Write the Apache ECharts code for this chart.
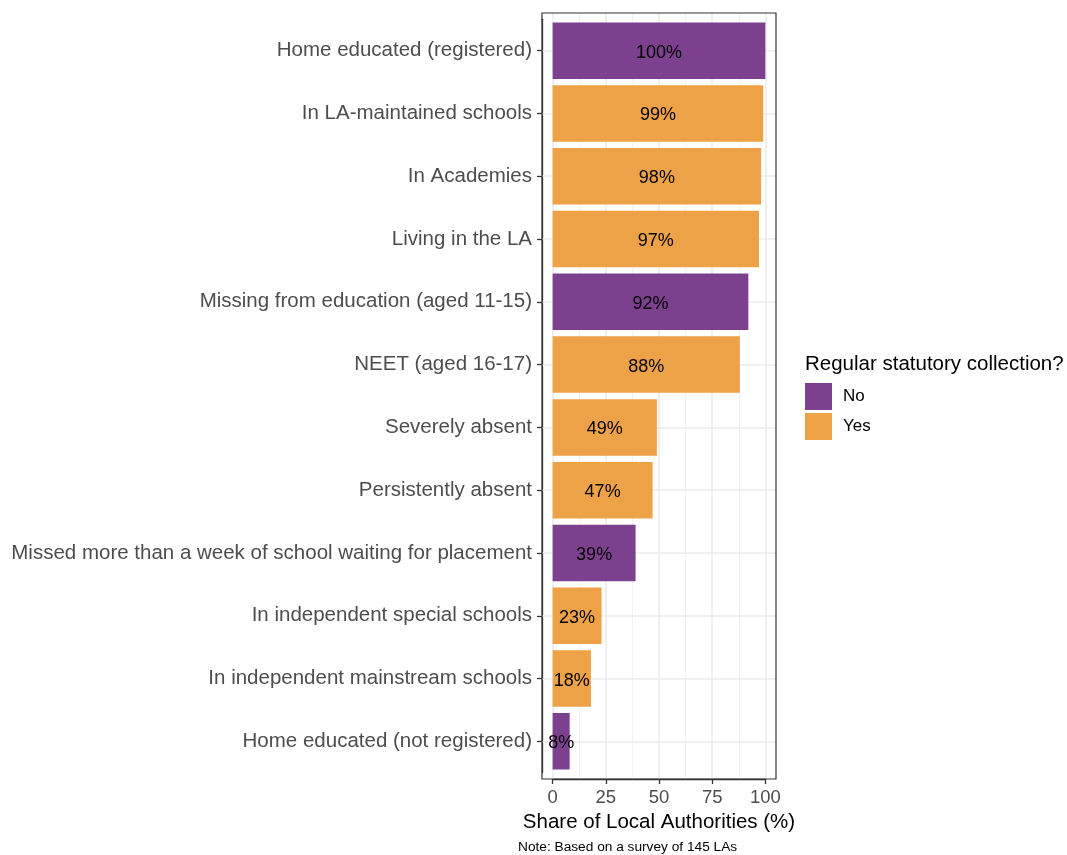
<!DOCTYPE html>
<html>
<head>
<meta charset="utf-8">
<title>Share of Local Authorities</title>
<script src="https://cdn.jsdelivr.net/npm/echarts@6/dist/echarts.min.js"></script>
<style>
  html, body { margin: 0; padding: 0; background: #ffffff; }
  #chart { width: 1067px; height: 855px; }
</style>
</head>
<body>
<div id="chart"></div>
<script>
// Categories from top to bottom
const categories = [
  'Home educated (registered)',
  'In LA-maintained schools',
  'In Academies',
  'Living in the LA',
  'Missing from education (aged 11-15)',
  'NEET (aged 16-17)',
  'Severely absent',
  'Persistently absent',
  'Missed more than a week of school waiting for placement',
  'In independent special schools',
  'In independent mainstream schools',
  'Home educated (not registered)'
];
// Share of LAs (%) per category
const shares = [100, 99, 98, 97, 92, 88, 49, 47, 39, 23, 18, 8];
// Regular statutory collection? per category
const statutory = ['No', 'Yes', 'Yes', 'Yes', 'No', 'Yes', 'Yes', 'Yes', 'No', 'Yes', 'Yes', 'No'];
const groups = ['No', 'Yes'];
const groupColors = { No: '#7c408f', Yes: '#eda247' };
const majorTicks = [0, 25, 50, 75, 100];
const minorTicks = [12.5, 37.5, 62.5, 87.5];

// Panel geometry (with 5% / 0.6-category padding around the data range)
const FONT = '"Liberation Sans", Arial, sans-serif';
const panel = { left: 542, top: 13, width: 234, height: 766 };
const xMin = 0, xMax = 100, xPad = 5;
const nCat = categories.length, catPad = 0.6;
const pxPerX = panel.width / (xMax - xMin + 2 * xPad);
const pxPerCat = panel.height / (nCat - 1 + 2 * catPad);
const dataGrid = {
  left: panel.left + xPad * pxPerX,
  top: panel.top + (catPad - 0.5) * pxPerCat,
  width: (xMax - xMin) * pxPerX,
  height: nCat * pxPerCat
};
const xOffset = panel.top + panel.height - (dataGrid.top + dataGrid.height);
const yOffset = dataGrid.left - panel.left;

const seriesByGroup = groups.map(g => ({
  name: g,
  type: 'bar',
  stack: 'share',
  xAxisIndex: 0,
  yAxisIndex: 0,
  barCategoryGap: '10%',
  z: 6,
  itemStyle: { color: groupColors[g] },
  label: {
    show: true,
    position: 'inside',
    offset: [0, 2],
    color: '#000000',
    fontFamily: FONT,
    fontSize: 18,
    formatter: p => p.value + '%'
  },
  data: shares.map((v, i) => statutory[i] === g ? v : '-')
}));

const gridLineData = [
  ...minorTicks.map(v => ({ xAxis: v, lineStyle: { color: '#f0f0f0', width: 0.9, type: 'solid' } })),
  ...majorTicks.map(v => ({ xAxis: v, lineStyle: { color: '#ebebeb', width: 1.6, type: 'solid' } })),
  ...categories.map((c, i) => ({ yAxis: i, lineStyle: { color: '#ebebeb', width: 1.6, type: 'solid' } }))
];

const axisInk = { color: '#333333', width: 1.3 };

const chart = echarts.init(document.getElementById('chart'), null, { renderer: 'canvas' });
chart.setOption({
  backgroundColor: '#ffffff',
  animation: false,
  textStyle: { fontFamily: FONT },
  grid: [
    {
      left: dataGrid.left, top: dataGrid.top, width: dataGrid.width, height: dataGrid.height,
      outerBoundsMode: 'none', containLabel: false
    },
    {
      left: panel.left, top: panel.top, width: panel.width, height: panel.height,
      outerBoundsMode: 'none', containLabel: false,
      show: true, z: 10, backgroundColor: 'transparent', borderColor: '#333333', borderWidth: 1.2
    }
  ],
  xAxis: [
    {
      type: 'value', gridIndex: 0, min: xMin, max: xMax, interval: 25,
      position: 'bottom', offset: xOffset,
      axisLine: { show: true, onZero: false, lineStyle: axisInk },
      axisTick: { show: true, length: 5, lineStyle: axisInk },
      axisLabel: { color: '#4d4d4d', fontSize: 18.5, fontFamily: FONT, margin: 9 },
      splitLine: { show: false }
    },
    {
      type: 'value', gridIndex: 1, min: xMin - xPad, max: xMax + xPad, show: false
    }
  ],
  yAxis: [
    {
      type: 'category', gridIndex: 0, data: categories, inverse: true,
      offset: yOffset,
      axisLine: { show: true, onZero: false, lineStyle: axisInk },
      axisTick: { show: true, alignWithLabel: true, length: 5, lineStyle: axisInk },
      axisLabel: { color: '#4d4d4d', fontSize: 20.5, fontFamily: FONT, margin: 10, padding: [6, 0, 0, 0] },
      splitLine: { show: false }
    },
    {
      type: 'value', gridIndex: 1, min: -catPad, max: nCat - 1 + catPad, inverse: true, show: false
    }
  ],
  legend: {
    data: groups,
    orient: 'vertical',
    left: 805, top: 383,
    padding: 0,
    icon: 'rect',
    itemWidth: 27, itemHeight: 27, itemGap: 3,
    selectedMode: false,
    textStyle: { fontSize: 17, color: '#000000', fontFamily: FONT, padding: [0, 0, 0, 6] }
  },
  graphic: [
    {
      type: 'text', x: 805, y: 364,
      style: { text: 'Regular statutory collection?', fontSize: 20.5, fontFamily: FONT, fill: '#000000', align: 'left', verticalAlign: 'middle' }
    },
    {
      type: 'text', x: panel.left + panel.width / 2, y: 822,
      style: { text: 'Share of Local Authorities (%)', fontSize: 20.5, fontFamily: FONT, fill: '#000000', align: 'center', verticalAlign: 'middle' }
    },
    {
      type: 'text', x: 518, y: 847,
      style: { text: 'Note: Based on a survey of 145 LAs', fontSize: 13.7, fontFamily: FONT, fill: '#000000', align: 'left', verticalAlign: 'middle' }
    }
  ],
  series: [
    {
      name: 'gridlines',
      type: 'scatter',
      xAxisIndex: 1, yAxisIndex: 1,
      data: [],
      silent: true,
      z: 1,
      markLine: {
        silent: true,
        z: 1,
        symbol: ['none', 'none'],
        label: { show: false },
        animation: false,
        data: gridLineData
      }
    },
    ...seriesByGroup
  ]
});
</script>
</body>
</html>
